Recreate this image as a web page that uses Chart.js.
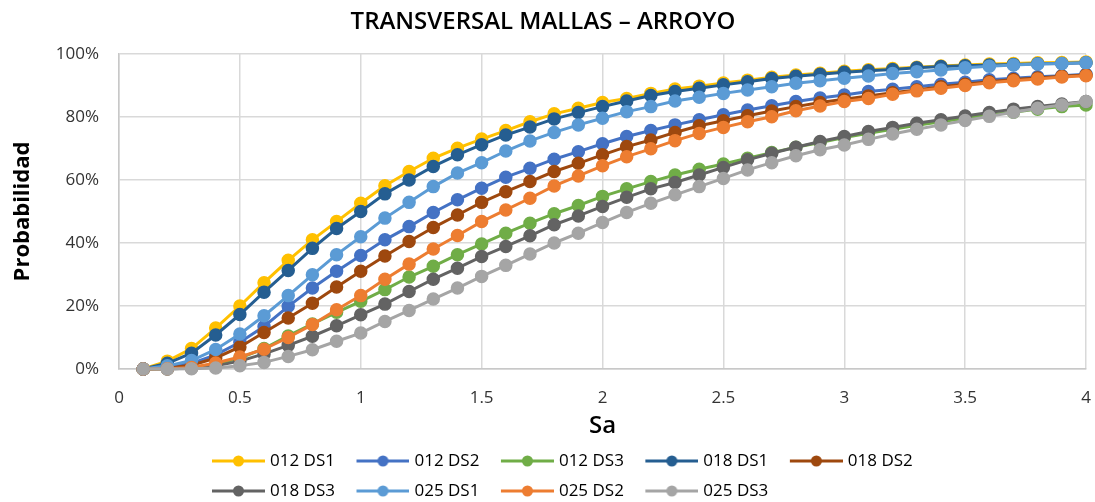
<!DOCTYPE html>
<html>
<head>
<meta charset="utf-8">
<script src="https://cdn.jsdelivr.net/npm/chart.js@4.4.1/dist/chart.umd.min.js"></script>
<style>
html,body{margin:0;padding:0;background:#fff;}
#wrap{position:relative;width:1095px;height:502px;}
</style>
</head>
<body>
<div id="wrap"><canvas id="c"></canvas></div>
<script>
const chartTitle = 'TRANSVERSAL MALLAS – ARROYO';
const xAxisTitle = 'Sa';
const yAxisTitle = 'Probabilidad';

const sa = [0.1,0.2,0.3,0.4,0.5,0.6,0.7,0.8,0.9,1.0,
            1.1,1.2,1.3,1.4,1.5,1.6,1.7,1.8,1.9,2.0,
            2.1,2.2,2.3,2.4,2.5,2.6,2.7,2.8,2.9,3.0,
            3.1,3.2,3.3,3.4,3.5,3.6,3.7,3.8,3.9,4.0];

const seriesNames = ['012 DS1','012 DS2','012 DS3','018 DS1','018 DS2','018 DS3','025 DS1','025 DS2','025 DS3'];

const s012DS1 = [0,2.5,6.5,13.0,20.0,27.4,34.5,41.0,46.8,52.6,58.2,62.7,66.9,70.1,73.0,75.7,78.5,81.0,82.8,84.6,85.9,87.5,88.9,89.8,90.8,91.7,92.6,93.3,93.9,94.5,95.0,95.4,95.8,96.2,96.5,96.8,97.0,97.2,97.3,97.5];
const s012DS2 = [0,0.5,1.8,4.5,8.5,13.5,19.9,25.7,31.0,36.0,41.0,45.2,49.7,53.7,57.4,60.9,63.7,66.6,69.0,71.5,73.8,75.7,77.5,79.1,80.7,82.2,83.6,84.9,86.0,87.0,88.1,88.8,89.6,90.4,91.0,91.8,92.3,92.8,93.1,93.6];
const s012DS3 = [0,0.1,0.4,1.5,3.5,6.5,10.5,14.3,18.0,21.5,25.2,29.2,32.6,36.3,39.7,43.1,46.3,49.3,51.9,54.8,57.2,59.5,61.6,63.4,65.1,66.9,68.7,70.4,71.9,73.5,74.8,76.1,77.4,78.5,79.6,80.7,81.5,82.5,83.3,83.8];
const s018DS1 = [0,1.8,5.0,10.8,17.3,24.4,31.3,38.3,44.6,50.0,55.6,60.0,64.3,68.0,71.2,74.3,76.8,79.4,81.4,83.3,85.1,86.8,88.1,89.1,90.2,91.2,92.2,92.9,93.6,94.2,94.7,95.1,95.6,96.0,96.3,96.5,96.7,96.9,97.0,97.2];
const s018DS2 = [0,0.3,1.2,3.5,7.0,11.6,16.2,20.9,26.0,31.0,35.9,40.5,44.9,48.9,52.9,56.3,59.5,62.7,65.3,68.0,70.6,72.7,75.1,77.2,78.8,80.4,81.9,83.3,84.6,85.6,86.7,87.7,88.6,89.6,90.4,91.2,91.9,92.4,92.9,93.3];
const s018DS3 = [0,0,0.3,1.0,2.5,4.8,7.5,10.4,13.7,17.2,20.6,24.6,28.5,32.0,35.7,38.9,42.3,45.8,48.6,51.6,54.5,57.2,59.2,61.6,64.0,66.4,68.5,70.4,72.2,73.8,75.4,76.7,78.0,79.1,80.3,81.4,82.5,83.3,84.1,84.9];
const s025DS1 = [0,1.0,2.7,6.2,11.1,16.9,23.3,29.9,36.3,42.0,47.9,52.9,57.9,62.2,65.5,69.2,72.4,75.1,77.5,79.6,81.7,83.3,85.1,86.3,87.5,88.6,89.6,90.7,91.5,92.3,93.0,93.8,94.4,94.9,95.6,96.1,96.5,96.8,97.0,97.2];
const s025DS2 = [0,0.1,0.5,1.9,3.8,6.3,10.0,14.1,18.8,23.3,28.5,33.3,38.1,42.4,46.8,50.5,54.2,58.1,61.3,64.5,67.4,69.9,72.5,74.8,76.7,78.5,80.1,82.0,83.5,84.9,85.9,87.2,88.3,89.1,90.0,90.9,91.5,92.1,92.7,93.1];
const s025DS3 = [0,0,0.1,0.3,1.0,2.1,4.0,6.1,8.8,11.4,15.1,18.6,22.2,25.7,29.4,32.9,36.5,40.0,43.1,46.5,49.7,52.6,55.3,57.9,60.5,63.2,65.5,67.7,69.6,71.1,72.9,74.6,76.1,77.5,78.9,80.2,81.5,82.8,83.8,84.9];

const seriesValues = [s012DS1,s012DS2,s012DS3,s018DS1,s018DS2,s018DS3,s025DS1,s025DS2,s025DS3];
const seriesColors = ['#FFC000','#4472C4','#70AD47','#255E91','#9E480E','#636363','#5B9BD5','#ED7D31','#A5A5A5'];

const xMin = 0, xMax = 4, xStep = 0.5;
const yMin = 0, yMax = 100, yStep = 20;

const FONT = "'Open Sans', 'Noto Sans', sans-serif";

function makeIcon(color) {
  const c = document.createElement('canvas');
  c.width = 65; c.height = 14;
  const g = c.getContext('2d');
  g.strokeStyle = color; g.lineWidth = 3;
  g.beginPath(); g.moveTo(12, 7); g.lineTo(65, 7); g.stroke();
  g.fillStyle = color;
  g.beginPath(); g.arc(38.5, 7, 5.5, 0, Math.PI * 2); g.fill();
  return c;
}
const legendIcons = seriesColors.map(makeIcon);

const datasets = seriesNames.map((name, i) => ({
  label: name,
  data: sa.map((x, k) => ({x: x, y: seriesValues[i][k]})),
  borderColor: seriesColors[i],
  backgroundColor: seriesColors[i],
  pointBackgroundColor: seriesColors[i],
  pointBorderColor: seriesColors[i],
  borderWidth: 3,
  pointRadius: 6,
  pointBorderWidth: 1.5,
  pointHoverRadius: 6,
  tension: 0,
  fill: false,
  clip: false,
  order: seriesNames.length - i
}));

const legendPlacer = {
  id: 'legendPlacer',
  afterLayout(chart) {
    const lg = chart.legend;
    if (!lg) return;
    lg.left = 190.5;
    lg.right = lg.left + 760;
    lg.width = 760;
    lg.top = 439.5;
    lg.bottom = lg.top + lg.height;
  }
};

new Chart(document.getElementById('c'), {
  type: 'line',
  data: { datasets: datasets },
  plugins: [legendPlacer],
  options: {
    responsive: true,
    maintainAspectRatio: false,
    animation: false,
    events: [],
    layout: { padding: { left: 0, right: 9, top: 0, bottom: 0 } },
    plugins: {
      title: {
        display: true,
        text: chartTitle,
        color: '#000',
        font: { family: FONT, size: 24, weight: '600', lineHeight: 1.2 },
        padding: { top: 7.6, bottom: 17.6 }
      },
      legend: {
        display: true,
        position: 'bottom',
        align: 'start',
        labels: {
          usePointStyle: true,
          pointStyleWidth: 58,
          padding: 13,
          color: '#000',
          font: { family: FONT, size: 17 },
          generateLabels(chart) {
            return chart.data.datasets.map((ds, i) => ({
              text: ds.label,
              datasetIndex: i,
              pointStyle: legendIcons[i],
              fillStyle: ds.borderColor,
              strokeStyle: ds.borderColor,
              lineWidth: 0,
              hidden: !chart.isDatasetVisible(i),
              fontColor: '#000'
            }));
          }
        }
      },
      tooltip: { enabled: false }
    },
    scales: {
      x: {
        type: 'linear',
        min: xMin, max: xMax,
        ticks: { stepSize: xStep, padding: 0, color: '#333', font: { family: FONT, size: 17 }, maxRotation: 0, autoSkip: false,
                 callback: v => String(Math.round(v * 10) / 10) },
        grid: { color: '#D9D9D9', lineWidth: 1.5, drawTicks: true, tickLength: 19, tickColor: 'rgba(0,0,0,0)' },
        border: { color: '#C8C8C8', width: 1.5 },
        title: { display: true, text: xAxisTitle, color: '#000', font: { family: FONT, size: 24, weight: '600', lineHeight: 1.2 }, padding: { top: 0, bottom: -9 } },
        afterFit(s) { s.height = 63; }
      },
      y: {
        type: 'linear',
        min: yMin, max: yMax,
        ticks: { stepSize: yStep, padding: 20, color: '#333', font: { family: FONT, size: 17 }, callback: v => v + '%' },
        grid: { color: '#D9D9D9', lineWidth: 1.5, drawTicks: false },
        border: { color: '#C8C8C8', width: 1.5 },
        title: { display: true, text: yAxisTitle, color: '#000', font: { family: FONT, size: 22, weight: 'bold', lineHeight: 1.2 }, padding: { top: 10, bottom: 0 } },
        afterFit(s) { s.width = 119; }
      }
    }
  }
});
</script>
</body>
</html>
